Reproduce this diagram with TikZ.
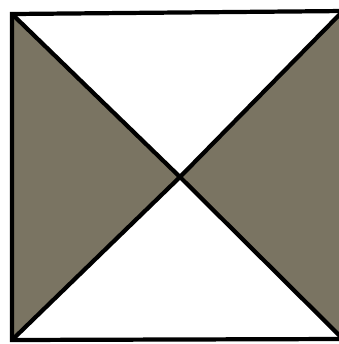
\documentclass[tikz,border=0pt]{standalone}
\definecolor{shade}{RGB}{122,116,98}
\tikzset{edge/.style={line width=1.2pt,line join=miter}, tri/.style={fill=shade}}
\begin{document}
\begin{tikzpicture}[x=0.01cm,y=-0.01cm]
\useasboundingbox (0,0) rectangle (339,344);
\fill[white] (0,0) rectangle (339,344);
\begin{scope}
\clip (0,0) rectangle (339,344);
\coordinate (tl) at (12,14);
\coordinate (tr) at (343,11);
\coordinate (br) at (343,339);
\coordinate (bl) at (12,340);
\coordinate (c) at (180,177);
\fill[tri] (tl) -- (c) -- (bl) -- cycle;
\fill[tri] (tr) -- (c) -- (br) -- cycle;
\draw[edge] (tl) -- (tr) -- (br) -- (bl) -- cycle;
\draw[edge] (tl) -- (c) -- (br);
\draw[edge] (tr) -- (c) -- (bl);
\end{scope}
\end{tikzpicture}
\end{document}
